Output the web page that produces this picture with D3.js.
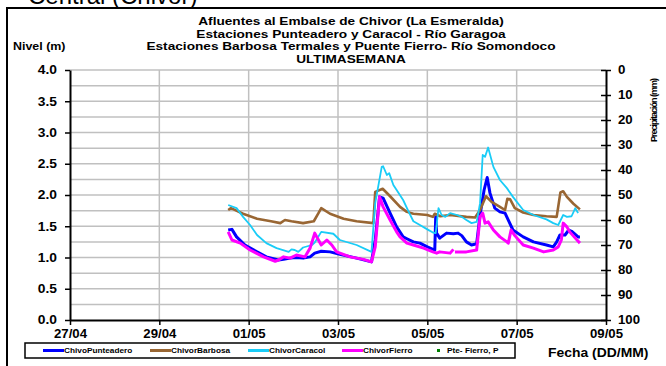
<!DOCTYPE html>
<html>
<head>
<meta charset="utf-8">
<script src="https://cdn.jsdelivr.net/npm/d3@7"></script>
<style>
  html, body { margin: 0; padding: 0; background: #fff; }
  svg { display: block; font-family: "Liberation Sans", Arial, sans-serif; }
</style>
</head>
<body>
<svg id="chart" width="666" height="366"></svg>
<script>
// ---- Data -------------------------------------------------------------
const titleLines = [
  "Afluentes al Embalse de Chivor (La Esmeralda)",
  "Estaciones Punteadero y Caracol - Río Garagoa",
  "Estaciones Barbosa Termales y Puente Fierro- Río Somondoco",
  "ULTIMASEMANA"
];
const dateTicks = ["27/04", "29/04", "01/05", "03/05", "05/05", "07/05", "09/05"];
const levelTicks = [0, 0.5, 1, 1.5, 2, 2.5, 3, 3.5, 4];
const rainTicks = [0, 10, 20, 30, 40, 50, 60, 70, 80, 90, 100];
const seriesNames = ["ChivoPunteadero", "ChivorBarbosa", "ChivorCaracol", "ChivorFierro", "Pte- Fierro, P"];
const seriesColors = ["#0000FF", "#996633", "#19CCF7", "#FF00FF", "#008000"];

// Nivel (m) — [fecha hora, nivel]
const punteadero = [
  ["30/04 13:00",1.44],["30/04 15:00",1.45],["30/04 17:30",1.33],["30/04 22:00",1.20],
  ["01/05 04:30",1.09],["01/05 09:30",1.01],["01/05 16:00",0.96],["01/05 18:45",0.97],
  ["01/05 22:20",0.99],["02/05 01:40",1.00],["02/05 05:15",0.99],["02/05 09:00",1.01],
  ["02/05 11:30",1.07],["02/05 15:00",1.10],["02/05 19:45",1.09],["03/05 01:00",1.05],
  ["03/05 10:00",0.99],["03/05 18:00",0.93],["03/05 20:00",1.28],["03/05 22:20",1.97],
  ["04/05 00:15",1.95],["04/05 04:00",1.71],["04/05 07:30",1.49],["04/05 11:00",1.33],
  ["04/05 13:00",1.30],["04/05 16:30",1.25],["04/05 20:00",1.23],["05/05 00:00",1.17],
  ["05/05 03:00",1.13],["05/05 04:00",1.12],["05/05 04:30",1.65],["05/05 05:00",1.39],
  ["05/05 06:40",1.31],["05/05 10:20",1.39],["05/05 14:00",1.38],["05/05 16:30",1.39],
  ["05/05 18:30",1.35],["05/05 21:00",1.25],["05/05 23:45",1.20],["06/05 02:30",1.22],
  ["06/05 04:20",1.68],["06/05 06:30",2.08],["06/05 08:10",2.28],["06/05 09:40",2.03],
  ["06/05 12:15",1.79],["06/05 15:00",1.73],["06/05 17:45",1.71],["06/05 22:00",1.44],
  ["07/05 03:30",1.33],["07/05 09:00",1.25],["07/05 16:00",1.20],["07/05 19:40",1.17],
  ["07/05 21:30",1.25],["07/05 23:15",1.36],["08/05 02:00",1.36],["08/05 04:00",1.44],
  ["08/05 05:30",1.42],["08/05 09:00",1.33],["08/05 10:00",1.33]
];
const barbosa = [
  ["30/04 13:00",1.76],["30/04 14:30",1.79],["30/04 21:00",1.70],["01/05 04:30",1.62],
  ["01/05 12:00",1.58],["01/05 17:00",1.55],["01/05 19:30",1.60],["01/05 23:00",1.58],
  ["02/05 05:15",1.55],["02/05 11:00",1.58],["02/05 13:30",1.71],["02/05 15:00",1.79],
  ["02/05 19:45",1.70],["03/05 03:00",1.62],["03/05 10:00",1.58],["03/05 19:00",1.55],
  ["03/05 20:00",2.05],["04/05 00:00",2.10],["04/05 04:00",1.98],["04/05 09:20",1.81],
  ["04/05 13:00",1.73],["04/05 16:30",1.70],["05/05 00:00",1.68],["05/05 03:00",1.65],
  ["05/05 04:00",1.70],["05/05 07:00",1.66],["05/05 12:15",1.68],["05/05 21:00",1.65],
  ["06/05 01:40",1.64],["06/05 04:20",1.76],["06/05 07:30",1.98],["06/05 10:30",1.89],
  ["06/05 15:00",1.81],["06/05 17:45",1.76],["06/05 19:00",1.94],["06/05 20:30",1.93],
  ["06/05 23:00",1.79],["07/05 03:30",1.72],["07/05 09:00",1.68],["07/05 16:00",1.66],
  ["07/05 21:30",1.65],["07/05 23:30",2.04],["08/05 01:00",2.06],["08/05 03:00",1.97],
  ["08/05 06:30",1.86],["08/05 10:00",1.77]
];
const caracol = [
  ["30/04 13:00",1.84],["30/04 17:30",1.79],["30/04 21:00",1.65],["01/05 00:45",1.52],
  ["01/05 04:30",1.36],["01/05 09:30",1.23],["01/05 15:00",1.15],["01/05 21:30",1.09],
  ["01/05 23:00",1.13],["02/05 00:45",1.12],["02/05 02:40",1.09],["02/05 05:15",1.16],
  ["02/05 10:00",1.20],["02/05 11:30",1.24],["02/05 15:00",1.41],["02/05 21:30",1.38],
  ["03/05 01:00",1.28],["03/05 10:00",1.20],["03/05 18:00",1.09],["03/05 20:00",1.87],
  ["03/05 23:30",2.45],["04/05 00:15",2.46],["04/05 02:15",2.32],["04/05 03:30",2.35],
  ["04/05 05:45",2.16],["04/05 11:00",1.92],["04/05 14:00",1.73],["04/05 16:30",1.58],
  ["04/05 20:00",1.52],["05/05 00:00",1.45],["05/05 03:00",1.40],["05/05 04:30",1.39],
  ["05/05 06:00",1.79],["05/05 07:40",1.68],["05/05 09:40",1.65],["05/05 12:15",1.71],
  ["05/05 16:00",1.68],["05/05 18:30",1.65],["05/05 21:00",1.60],["05/05 23:45",1.55],
  ["06/05 02:30",1.57],["06/05 04:20",1.87],["06/05 05:45",2.64],["06/05 07:00",2.61],
  ["06/05 08:40",2.76],["06/05 11:30",2.45],["06/05 15:00",2.24],["06/05 18:45",2.11],
  ["06/05 22:00",1.97],["07/05 03:30",1.76],["07/05 09:00",1.68],["07/05 16:00",1.61],
  ["07/05 19:40",1.55],["07/05 22:20",1.52],["08/05 01:00",1.68],["08/05 03:00",1.65],
  ["08/05 05:30",1.66],["08/05 07:30",1.79],["08/05 09:00",1.71]
];
// null marks a gap in the record
const fierro = [
  ["30/04 13:00",1.41],["30/04 15:00",1.28],["30/04 19:30",1.23],["01/05 00:45",1.12],
  ["01/05 08:00",1.01],["01/05 14:15",0.94],["01/05 16:00",0.96],["01/05 18:45",1.01],
  ["01/05 22:20",0.99],["02/05 01:40",1.04],["02/05 06:15",1.01],["02/05 09:00",1.15],
  ["02/05 11:30",1.39],["02/05 13:30",1.28],["02/05 15:00",1.20],["02/05 18:00",1.28],
  ["02/05 20:40",1.20],["02/05 23:15",1.09],["03/05 06:30",1.01],["03/05 13:40",0.97],
  ["03/05 18:00",0.93],["03/05 20:00",1.17],["03/05 22:20",1.97],["04/05 00:15",1.81],
  ["04/05 04:00",1.60],["04/05 07:30",1.41],["04/05 09:20",1.33],["04/05 13:00",1.23],
  ["04/05 16:30",1.20],["04/05 22:00",1.15],["05/05 03:00",1.09],["05/05 05:00",1.07],
  ["05/05 06:40",1.09],["05/05 12:15",1.07],["05/05 14:00",1.13],["05/05 14:20",null],
  ["05/05 14:50",1.09],["05/05 21:00",1.09],["06/05 02:30",1.12],["06/05 04:20",1.65],
  ["06/05 05:45",1.71],["06/05 07:00",1.55],["06/05 08:40",1.57],["06/05 11:30",1.44],
  ["06/05 15:00",1.33],["06/05 18:45",1.25],["06/05 19:30",1.23],["06/05 21:00",1.44],
  ["06/05 23:00",1.35],["07/05 03:30",1.20],["07/05 09:00",1.15],["07/05 14:30",1.09],
  ["07/05 19:40",1.12],["07/05 22:20",1.17],["07/05 23:15",1.23],["08/05 00:00",1.28],
  ["08/05 01:00",1.55],["08/05 03:00",1.49],["08/05 04:30",1.41],["08/05 07:30",1.31],
  ["08/05 10:00",1.23]
];

// ---- Setup ------------------------------------------------------------
const parse = d3.timeParse("%d/%m %H:%M");
const svg = d3.select("#chart");
const FONT = "'Liberation Sans', Arial, sans-serif";

// Widen text horizontally by a factor, keeping its anchor
function widen(sel, factor) {
  sel.each(function () {
    const len = this.getComputedTextLength();
    d3.select(this)
      .attr("textLength", (len * factor).toFixed(1))
      .attr("lengthAdjust", "spacingAndGlyphs");
  });
}

const x = d3.scaleTime()
  .domain([parse("27/04 00:00"), parse("09/05 00:00")])
  .range([70, 606]);
const y = d3.scaleLinear().domain([0, 4]).range([320, 70]);
const yRain = d3.scaleLinear().domain([0, 100]).range([70, 320]);

// Outer frame (continues past the right and bottom edges)
svg.append("rect")
  .attr("x", 7).attr("y", 8).attr("width", 680).attr("height", 380)
  .attr("fill", "none").attr("stroke", "#000").attr("stroke-width", 2);

// Page heading above the frame
svg.append("text")
  .attr("x", 28).attr("y", 4)
  .attr("font-family", FONT).attr("font-size", 24)
  .text("Central (Chivor)");

// Titles
const titleY = [25, 37.5, 50, 62.5];
svg.append("g").selectAll("text").data(titleLines).join("text")
  .attr("x", 351).attr("y", (d, i) => titleY[i])
  .attr("text-anchor", "middle")
  .attr("font-family", FONT).attr("font-weight", "bold").attr("font-size", 11)
  .text(d => d)
  .call(widen, 1.24);

svg.append("text")
  .attr("x", 13).attr("y", 50)
  .attr("font-family", FONT).attr("font-weight", "bold").attr("font-size", 11.5)
  .text("Nivel (m)")
  .call(widen, 1.08);

// ---- Grid ---------------------------------------------------------------
const grid = svg.append("g").attr("stroke", "#C0C0C0").attr("stroke-width", 1.5);
grid.selectAll("line.h").data(d3.range(0.25, 4.01, 0.25)).join("line")
  .attr("class", "h")
  .attr("x1", 70).attr("x2", 606)
  .attr("y1", d => y(d)).attr("y2", d => y(d));
grid.selectAll("line.v").data(dateTicks.slice(1, -1)).join("line")
  .attr("class", "v")
  .attr("x1", d => x(parse(d + " 00:00"))).attr("x2", d => x(parse(d + " 00:00")))
  .attr("y1", 70).attr("y2", 320);

// ---- Series -------------------------------------------------------------
const line = d3.line()
  .defined(d => d[1] != null)
  .x(d => x(parse(d[0])))
  .y(d => y(d[1]));

const series = [
  { data: punteadero, color: seriesColors[0], w: 3 },
  { data: barbosa, color: seriesColors[1], w: 2.6 },
  { data: caracol, color: seriesColors[2], w: 1.8 },
  { data: fierro, color: seriesColors[3], w: 3 }
];
svg.append("g").selectAll("path").data(series).join("path")
  .attr("d", d => line(d.data))
  .attr("fill", "none")
  .attr("stroke", d => d.color)
  .attr("stroke-width", d => d.w)
  .attr("stroke-linejoin", "round");

// ---- Axes -------------------------------------------------------------
function styleAxis(g, size, factor) {
  g.select(".domain").attr("stroke", "#000").attr("stroke-width", 2);
  g.selectAll(".tick line").attr("stroke", "#000").attr("stroke-width", 1.5);
  g.selectAll("text")
    .attr("font-family", FONT).attr("font-weight", "bold")
    .attr("font-size", size).attr("fill", "#000")
    .call(widen, factor);
}

svg.append("g")
  .attr("transform", "translate(0,320)")
  .call(d3.axisBottom(x)
    .tickValues(dateTicks.map(d => parse(d + " 00:00")))
    .tickFormat(d3.timeFormat("%d/%m"))
    .tickSizeInner(5).tickSizeOuter(0).tickPadding(4))
  .call(g => styleAxis(g, 12, 1.1));

svg.append("g")
  .attr("transform", "translate(70,0)")
  .call(d3.axisLeft(y)
    .tickValues(levelTicks)
    .tickFormat(d3.format(".1f"))
    .tickSizeInner(5).tickSizeOuter(0).tickPadding(8))
  .call(g => styleAxis(g, 12, 1.15));

const rightAxis = svg.append("g")
  .attr("transform", "translate(606,0)")
  .call(d3.axisRight(yRain)
    .tickValues(rainTicks)
    .tickSizeInner(5).tickSizeOuter(0).tickPadding(7))
  .call(g => styleAxis(g, 12, 1.1));
rightAxis.selectAll(".tick line").attr("x1", -5);

// Right axis title, squeezed into the frame
svg.append("text")
  .attr("transform", "translate(657,142) rotate(-90)")
  .attr("font-family", FONT).attr("font-weight", "bold").attr("font-size", 9)
  .attr("textLength", 64).attr("lengthAdjust", "spacing")
  .text("Precipitación (mm)");

svg.append("text")
  .attr("x", 548).attr("y", 357)
  .attr("font-family", FONT).attr("font-weight", "bold").attr("font-size", 12)
  .text("Fecha (DD/MM)")
  .call(widen, 1.16);

// ---- Legend -------------------------------------------------------------
const legend = svg.append("g");
legend.append("rect")
  .attr("x", 25).attr("y", 343).attr("width", 490).attr("height", 15)
  .attr("fill", "#fff").attr("stroke", "#000").attr("stroke-width", 1.5);
const legendX = [43, 150, 248, 342, 436];
const items = legend.selectAll("g.item").data(seriesNames).join("g")
  .attr("class", "item")
  .attr("transform", (d, i) => `translate(${legendX[i]},350.5)`);
items.filter((d, i) => i < 4).append("line")
  .attr("x1", 0).attr("x2", 21).attr("y1", 0).attr("y2", 0)
  .attr("stroke", (d, i) => seriesColors[i]).attr("stroke-width", 3);
items.filter((d, i) => i === 4).append("rect")
  .attr("x", 1).attr("y", -1.5).attr("width", 3).attr("height", 3)
  .attr("fill", seriesColors[4]);
items.append("text")
  .attr("x", (d, i) => i < 4 ? 21 : 11).attr("y", 2.8)
  .attr("font-family", FONT).attr("font-weight", "bold").attr("font-size", 7.5)
  .text(d => d)
  .call(widen, 1.1);
</script>
</body>
</html>
